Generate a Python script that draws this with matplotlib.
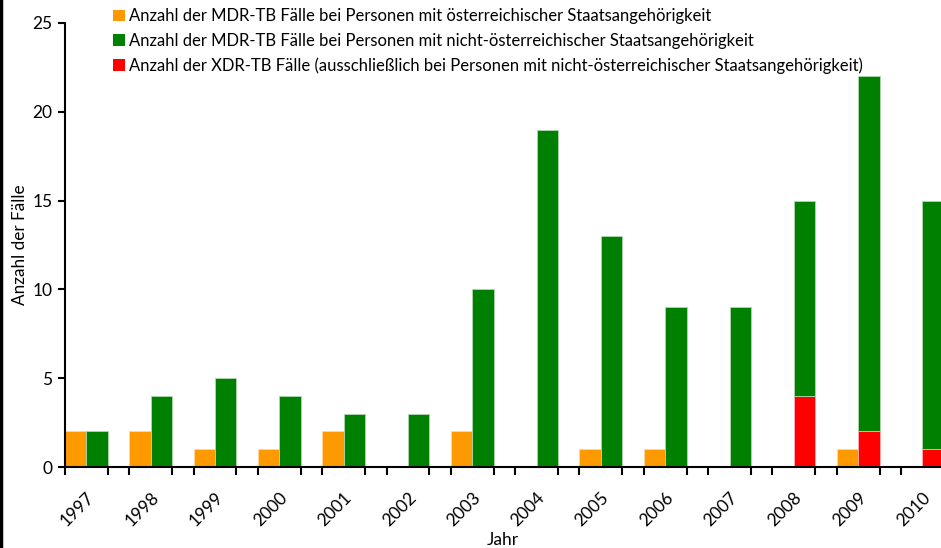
import matplotlib
matplotlib.use("Agg")
import matplotlib.pyplot as plt
from matplotlib.patches import Patch
from matplotlib.lines import Line2D
import numpy as np

years = ["1997", "1998", "1999", "2000", "2001", "2002", "2003",
         "2004", "2005", "2006", "2007", "2008", "2009", "2010"]
mdr_austrian = [2, 2, 1, 1, 2, 0, 2, 0, 1, 1, 0, 0, 1, 0]
mdr_non_austrian_total = [2, 4, 5, 4, 3, 3, 10, 19, 13, 9, 9, 15, 22, 15]
xdr_non_austrian = [0, 0, 0, 0, 0, 0, 0, 0, 0, 0, 0, 4, 2, 1]

labels = ["Anzahl der MDR-TB Fälle bei Personen mit österreichischer Staatsangehörigkeit",
          "Anzahl der MDR-TB Fälle bei Personen mit nicht-österreichischer Staatsangehörigkeit",
          "Anzahl der XDR-TB Fälle (ausschließlich bei Personen mit nicht-österreichischer Staatsangehörigkeit)"]
c_orange, c_green, c_red = "#FF9900", "#008000", "#FF0000"

plt.rcParams['font.family'] = ['Lato', 'DejaVu Sans']

W, H = 941, 548
fig = plt.figure(figsize=(W/100, H/100), dpi=100)
ax = fig.add_axes([65/W, (H-467)/H, (W-65)/W, 444/H])

n = len(years)
idx = np.arange(n) * 3
aus = np.array(mdr_austrian)
tot = np.array(mdr_non_austrian_total)
xdr = np.array(xdr_non_austrian)

ax.bar(idx + 0.5, aus, width=1.0, color=c_orange, edgecolor="#ffd8a0", linewidth=0.6)
ax.bar(idx + 1.5, xdr, width=1.0, color=c_red, edgecolor="#ffb0b0", linewidth=0.6)
ax.bar(idx + 1.5, tot - xdr, bottom=xdr, width=1.0, color=c_green, edgecolor="#b0d8b0", linewidth=0.6)

ax.set_yticks(range(0, 26, 5))
ax.set_xticks(idx + 1)
ax.set_xticklabels(years, rotation=45, ha='right', va='top', rotation_mode='anchor')
ax.set_xticks(np.arange(0, 3 * n + 1), minor=True)

slot_px = 836 / 13 / 3
ax.set_xlim(0, (W - 65) / slot_px)
ax.set_ylim(0, 25)

ax.tick_params(axis='x', which='major', length=0, pad=16, labelsize=12.5)
ax.tick_params(axis='x', which='minor', length=6, width=1.5, direction='out')
ax.tick_params(axis='y', length=5, width=1.5, labelsize=12.5, pad=4)

for s in ['top', 'right']:
    ax.spines[s].set_visible(False)
for s in ['left', 'bottom']:
    ax.spines[s].set_linewidth(1.5)

ax.set_xlabel("Jahr", fontsize=12.5)
ax.xaxis.set_label_coords((503 - 65) / (W - 65), -(532 - 467) / 444)
ax.set_ylabel("Anzahl der Fälle", fontsize=12.3)
ax.yaxis.set_label_coords(-(65 - 28) / (W - 65), (467 - 245) / 444)

handles = [Patch(facecolor=c_orange, edgecolor='none'),
           Patch(facecolor=c_green, edgecolor='none'),
           Patch(facecolor=c_red, edgecolor='none')]
fig.legend(handles, labels, loc='upper left', bbox_to_anchor=(110/W, 1 - 5/H),
           frameon=False, fontsize=12, handlelength=0.7, handleheight=0.7,
           handletextpad=0.25, labelspacing=0.5, borderaxespad=0, borderpad=0.2)

fig.add_artist(Line2D([1/W, 1/W], [0, 1], color='black', linewidth=2.5, transform=fig.transFigure))

fig.savefig("out.png", dpi=100)
